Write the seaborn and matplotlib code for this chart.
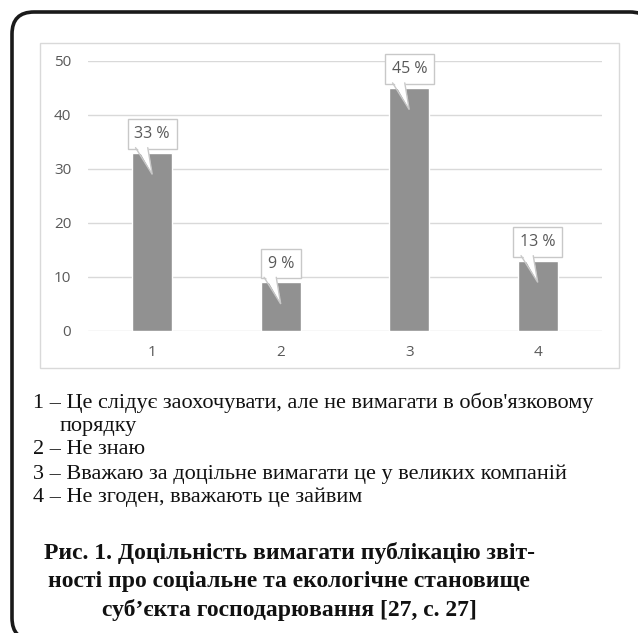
import matplotlib
matplotlib.use('Agg')
import matplotlib.pyplot as plt
import seaborn as sns
from matplotlib.patches import FancyBboxPatch, Rectangle

# Data
categories = ['1', '2', '3', '4']
values = [33, 9, 45, 13]
labels = ['33 %', '9 %', '45 %', '13 %']
y_ticks = [0, 10, 20, 30, 40, 50]

legend_lines = [
    "1 – Це слідує заохочувати, але не вимагати в обов'язковому",
    "порядку",
    "2 – Не знаю",
    "3 – Вважаю за доцільне вимагати це у великих компаній",
    "4 – Не згоден, вважають це зайвим",
]
caption_lines = [
    "Рис. 1. Доцільність вимагати публікацію звіт-",
    "ності про соціальне та екологічне становище",
    "суб’єкта господарювання [27, с. 27]",
]

W, H = 638, 633
GREY_TXT = '#595959'
BORDER = '#c8c8c8'

sns.set_theme(style='white')
plt.rcParams['font.family'] = ['Open Sans', 'DejaVu Sans']

fig = plt.figure(figsize=(W / 100, H / 100), dpi=100)

# background layer in pixel coords for the frames
bg = fig.add_axes([0, 0, 1, 1], zorder=0)
bg.set_xlim(0, W)
bg.set_ylim(H, 0)
bg.axis('off')
bg.add_patch(FancyBboxPatch((12, 12), 640, 628, boxstyle='round,pad=0,rounding_size=22',
                            fc='white', ec='#1a1a1a', lw=2.6))
bg.add_patch(Rectangle((40, 43), 579, 325, fc='white', ec='#d9d9d9', lw=1))

# chart
ax = fig.add_axes([88 / W, 1 - 331 / H, 514 / W, 270 / H], zorder=1)
ax.patch.set_alpha(0)
sns.barplot(x=categories, y=values, color='#919191', saturation=1, width=0.31, ax=ax, zorder=2)
ax.set_xlim(-0.5, 3.5)
ax.set_ylim(0, 50)
ax.set_yticks(y_ticks)
ax.yaxis.grid(True, color='#d9d9d9', lw=1)
ax.set_axisbelow(True)
for s in ax.spines.values():
    s.set_visible(False)
ax.tick_params(axis='y', length=0, pad=12, labelsize=11, labelcolor=GREY_TXT)
ax.tick_params(axis='x', length=0, pad=10, labelsize=11, labelcolor=GREY_TXT)
ax.set_xlabel('')
ax.set_ylabel('')

# callout labels: box plus a pointer that leaves the box's lower-left part
for i, (v, lab) in enumerate(zip(values, labels)):
    ax.text(i, v + 3.5, lab, ha='center', va='center', fontsize=11.5, color=GREY_TXT, zorder=5,
            bbox=dict(boxstyle='square,pad=0.42', fc='white', ec=BORDER, lw=1))
    xl, xr, tip = i - 0.13, i - 0.035, v - 4
    ax.fill([xl, xr, i], [v + 1.5, v + 1.5, tip], color='white', ec='none', zorder=6)
    ax.plot([xl, i, xr], [v + 0.95, tip, v + 0.95], color=BORDER, lw=1, zorder=7,
            solid_joinstyle='miter')

# legend text under the chart
serif = ['Liberation Serif', 'DejaVu Serif']
legend_y = [403, 427, 450, 474, 497]
legend_x = [33, 60, 33, 33, 33]
for txt, x, y in zip(legend_lines, legend_x, legend_y):
    fig.text(x / W, 1 - y / H, txt, family=serif, fontsize=16, color='#111111',
             ha='left', va='center')

caption_y = [553, 582, 610]
for txt, y in zip(caption_lines, caption_y):
    fig.text(289 / W, 1 - y / H, txt, family=serif, fontsize=17, fontweight='bold',
             color='#111111', ha='center', va='center')

fig.savefig('out.png', dpi=100)
